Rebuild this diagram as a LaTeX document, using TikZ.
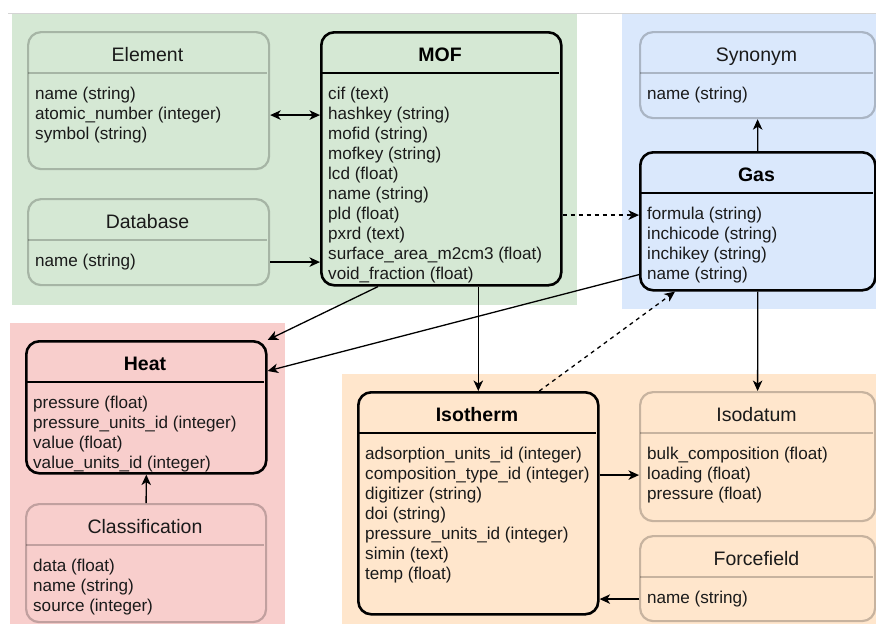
\documentclass[tikz,border=0pt]{standalone}
\usepackage{fontspec}
\setmainfont{Liberation Sans}
\usetikzlibrary{arrows.meta,calc}
\definecolor{bggreen}{HTML}{D5E8D4}
\definecolor{bgblue}{HTML}{DAE8FC}
\definecolor{bgred}{HTML}{F8CECC}
\definecolor{bgorange}{HTML}{FFE6CC}
\definecolor{topline}{HTML}{D4D4D4}
\definecolor{txt}{HTML}{1A1A1A}
\tikzset{
  strong/.style={draw=black, line width=2.6pt, rounded corners=13pt, inner sep=0pt},
  strong sep/.style={draw=black, line width=2pt},
  strong title/.style={font=\fontsize{19.5}{22}\selectfont\bfseries, text=black, inner sep=0pt},
  faded/.style={draw=black, draw opacity=0.22, line width=2.2pt, rounded corners=13pt, inner sep=0pt},
  faded sep/.style={draw=black, draw opacity=0.22, line width=1.6pt},
  faded title/.style={font=\fontsize{19.5}{22}\selectfont, text=txt, inner sep=0pt},
  attr/.style={font=\fontsize{17.1}{20}\selectfont, text=txt, inner sep=0pt},
  conn/.style={draw=black, line width=1.3pt, -{Stealth[length=10.5pt,width=9.5pt,inset=3pt]}},
  biconn/.style={draw=black, line width=1.3pt, {Stealth[length=10.5pt,width=9.5pt,inset=3pt]}-{Stealth[length=10.5pt,width=9.5pt,inset=3pt]}},
  dconn/.style={conn, dash pattern=on 4pt off 4pt},
}
% #1 id, #2 style, #3 x1, #4 y1, #5 x2, #6 y2, #7 title, #8 attributes
\newcommand{\erent}[8]{%
  \node[#2, minimum width={(#5-#3)*1pt}, minimum height={(#6-#4)*1pt}, anchor=north west] (#1) at (#3,#4) {};
  \draw[#2 sep] (#3+1.2,#4+42) -- (#5-1.2,#4+42);
  \node[#2 title, anchor=base] (#1-title) at ({(#3+#5)/2},#4+30.5) {#7};
  \foreach \a [count=\i] in {#8} {
    \node[attr, anchor=base west] (#1-\i) at (#3+8,#4+48.5+20*\i) {\a};
  }
}
\begin{document}
\begin{tikzpicture}[x=1pt,y=-1pt]
\useasboundingbox (0,0) rectangle (876,624);
% regions
\fill[bggreen] (12,14) rectangle (577,305);
\fill[bgblue] (622,14) rectangle (876,309);
\fill[bgred] (10,323) rectangle (285,624);
\fill[bgorange] (342,374) rectangle (876,624);
\draw[topline, line width=1pt] (8,13) -- (876,13);
% entities
\erent{element}{faded}{27}{31}{268}{168}{Element}{name (string),atomic\_number (integer),symbol (string)}
\erent{database}{faded}{27}{198}{268}{284}{Database}{name (string)}
\erent{mof}{strong}{320}{31}{560}{284}{MOF}{cif (text),hashkey (string),mofid (string),mofkey (string),lcd (float),name (string),pld (float),pxrd (text),surface\_area\_m2cm3 (float),void\_fraction (float)}
\erent{synonym}{faded}{639}{31}{874}{117}{Synonym}{name (string)}
\erent{gas}{strong}{639}{151}{874}{289}{Gas}{formula (string),inchicode (string),inchikey (string),name (string)}
\erent{heat}{strong}{25}{340}{265}{472}{Heat}{pressure (float),pressure\_units\_id (integer),value (float),value\_units\_id (integer)}
\erent{classification}{faded}{25}{503}{265}{621}{Classification}{data (float),name (string),source (integer)}
\erent{isotherm}{strong}{357}{391}{597}{613}{Isotherm}{adsorption\_units\_id (integer),composition\_type\_id (integer),digitizer (string),doi (string),pressure\_units\_id (integer),simin (text),temp (float)}
\erent{isodatum}{faded}{639}{391}{874}{520}{Isodatum}{bulk\_composition (float),loading (float),pressure (float)}
\erent{forcefield}{faded}{639}{535}{874}{620}{Forcefield}{name (string)}
% connectors
\draw[biconn] (element.east |- mof-2) -- (mof.west |- mof-2);
\draw[conn] (database.east |- database-1) -- (mof.west |- database-1);
\draw[dconn] (mof.east |- gas-1) -- (gas.west |- gas-1);
\draw[conn] (gas.north) -- (synonym.south);
\draw[conn] ($(mof.south west)+(58,0)$) -- (heat.north east);
\draw[conn] ($(gas.south west)+(0,-17)$) -- ($(heat.north east)+(0,31)$);
\draw[conn] (isotherm.north |- mof.south) -- (isotherm.north);
\draw[dconn] ($(isotherm.north)+(61,0)$) -- ($(gas.south west)+(36,0)$);
\draw[conn] (gas.south) -- (isodatum.north);
\draw[conn] (isotherm.east |- isodatum-2) -- (isodatum.west |- isodatum-2);
\draw[conn] (forcefield.west |- forcefield-1) -- (isotherm.east |- forcefield-1);
\draw[conn] (classification.north) -- (heat.south);
\end{tikzpicture}
\end{document}
